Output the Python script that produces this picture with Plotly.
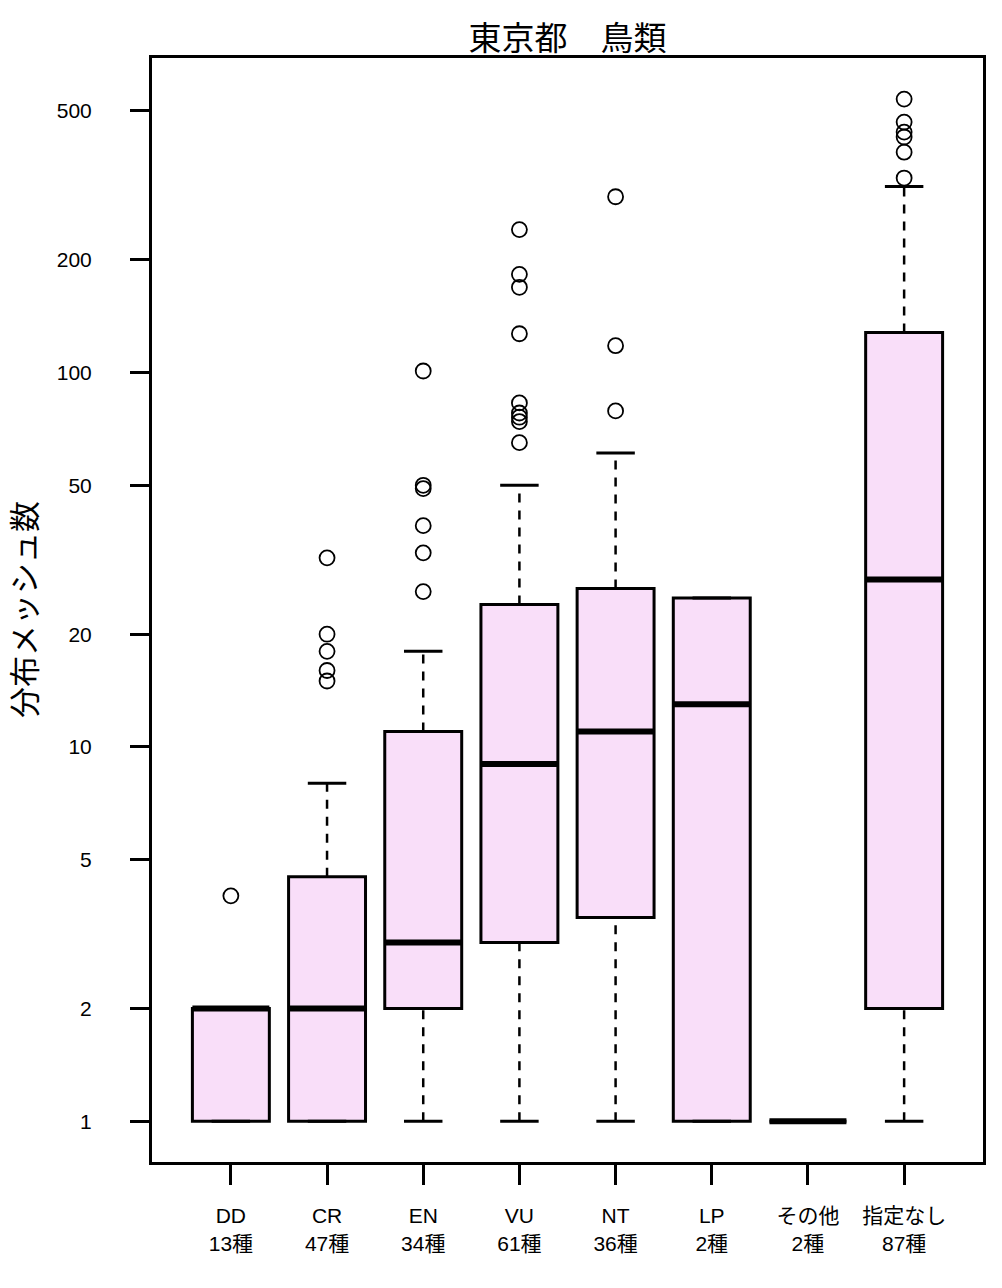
import plotly.graph_objects as go

# ---------------- data ----------------
categories = ["DD", "CR", "EN", "VU", "NT", "LP", "その他", "指定なし"]
n_species = [13, 47, 34, 61, 36, 2, 2, 87]
q1 = [1, 1, 2, 3, 3.5, 1, 1, 2]
median = [2, 2, 3, 9, 11, 13, 1, 28]
q3 = [2, 4.5, 11, 24, 26.5, 25, 1, 128]
lower_whisker = [1, 1, 1, 1, 1, 1, 1, 1]
upper_whisker = [2, 8, 18, 50, 61, 25, 1, 314]

outlier_group = (["DD"]
                 + ["CR"] * 5
                 + ["EN"] * 6
                 + ["VU"] * 9
                 + ["NT"] * 3
                 + ["指定なし"] * 6)
outlier_value = ([4]
                 + [32, 20, 18, 16, 15]
                 + [101, 50, 49, 39, 33, 26]
                 + [241, 183, 169, 127, 83, 78, 76, 74, 65]
                 + [295, 118, 79]
                 + [538, 467, 439, 426, 388, 331])

y_ticks = [1, 2, 5, 10, 20, 50, 100, 200, 500]

# ---------------- styling ----------------
BOX_FILL = "#F9DEF9"
BOX_W = 0.8
CAP_W = 0.4
NUM_FONT = "Liberation Sans, Noto Sans CJK JP, sans-serif"
JP_FONT = "Noto Sans CJK JP, sans-serif"

pos = list(range(1, len(categories) + 1))
pos_of = {c: p for c, p in zip(categories, pos)}

fig = go.Figure()

# boxes (hinges only; whiskers drawn separately as dashed lines)
fig.add_trace(go.Box(
    x=pos, q1=q1, median=median, q3=q3,
    lowerfence=q1, upperfence=q3,
    width=BOX_W, whiskerwidth=0,
    fillcolor=BOX_FILL, line=dict(color="black", width=3),
    boxpoints=False, hoverinfo="skip", showlegend=False,
))

# dashed whiskers
wx, wy = [], []
for p, lo, a, b, hi in zip(pos, lower_whisker, q1, q3, upper_whisker):
    wx += [p, p, None, p, p, None]
    wy += [b, hi, None, lo, a, None]
fig.add_trace(go.Scatter(
    x=wx, y=wy, mode="lines",
    line=dict(color="black", width=2.5, dash="9px,8px"),
    hoverinfo="skip", showlegend=False,
))

# whisker caps
cx, cy = [], []
for p, lo, hi in zip(pos, lower_whisker, upper_whisker):
    cx += [p - CAP_W / 2, p + CAP_W / 2, None, p - CAP_W / 2, p + CAP_W / 2, None]
    cy += [hi, hi, None, lo, lo, None]
fig.add_trace(go.Scatter(
    x=cx, y=cy, mode="lines",
    line=dict(color="black", width=3),
    hoverinfo="skip", showlegend=False,
))

# thick medians
mx, my = [], []
for p, m in zip(pos, median):
    mx += [p - BOX_W / 2, p + BOX_W / 2, None]
    my += [m, m, None]
fig.add_trace(go.Scatter(
    x=mx, y=my, mode="lines",
    line=dict(color="black", width=6),
    hoverinfo="skip", showlegend=False,
))

# outliers
fig.add_trace(go.Scatter(
    x=[pos_of[g] for g in outlier_group], y=outlier_value, mode="markers",
    marker=dict(symbol="circle-open", size=15, color="black", line=dict(width=1.8)),
    hoverinfo="skip", showlegend=False,
))

tick_text = [f"{c}<br>{n}種" for c, n in zip(categories, n_species)]

fig.update_layout(
    width=994, height=1280,
    margin=dict(l=144, r=19, t=50, b=126),
    paper_bgcolor="white", plot_bgcolor="white",
    showlegend=False,
    title=dict(
        text="東京都　鳥類",
        font=dict(family=JP_FONT, size=33, color="black"),
        x=0.5, xref="paper", xanchor="center",
        y=1 - 30 / 1280, yref="container", yanchor="middle",
    ),
    xaxis=dict(
        range=[0.18, 8.82],
        tickmode="array", tickvals=pos, ticktext=tick_text,
        ticks="outside", ticklen=20, tickwidth=3, tickcolor="black",
        tickfont=dict(family=NUM_FONT, size=21, color="black"),
        ticklabelstandoff=13,
        showline=True, linewidth=3, linecolor="black", mirror=True,
        showgrid=False, zeroline=False,
    ),
    yaxis=dict(
        type="log",
        range=[-0.109, 2.8405],
        tickmode="array", tickvals=y_ticks, ticktext=[str(v) for v in y_ticks],
        ticks="outside", ticklen=19, tickwidth=3, tickcolor="black",
        tickfont=dict(family=NUM_FONT, size=21, color="black"),
        ticklabelstandoff=34,
        showline=True, linewidth=3, linecolor="black", mirror=True,
        showgrid=False, zeroline=False,
    ),
    annotations=[dict(
        text="分布メッシュ数",
        xref="paper", yref="paper", x=0, y=0.5,
        xshift=-130, xanchor="center", yanchor="middle",
        textangle=-90, showarrow=False, borderpad=0,
        font=dict(family=JP_FONT, size=31, color="black"),
    )],
)

fig.write_html("out.html")
